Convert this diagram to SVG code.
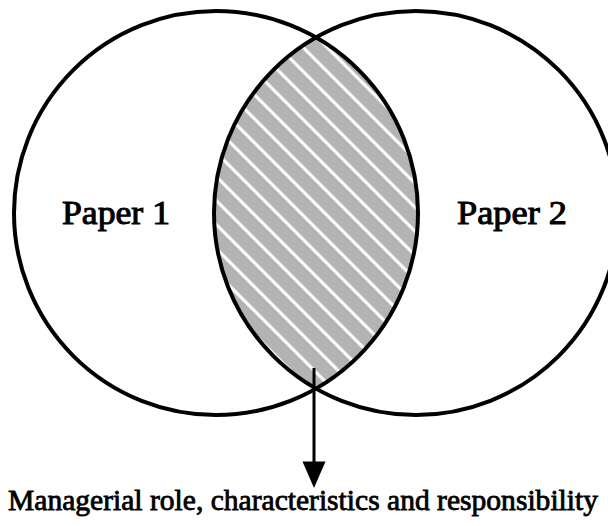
<svg xmlns="http://www.w3.org/2000/svg" width="608" height="526" viewBox="0 0 608 526">
<style>
.c{fill:none;stroke:#000;stroke-width:4}
.t{font-family:"Liberation Serif","Times New Roman",serif;fill:#000;stroke:#000;stroke-width:1}
</style>
<defs>
<pattern id="hatch" patternUnits="userSpaceOnUse" width="20" height="16.97" patternTransform="rotate(45)">
<rect width="20" height="16.97" fill="#b3b3b3"/>
<rect y="4.3" width="20" height="3.1" fill="#fff"/>
</pattern>
<clipPath id="lc"><circle cx="216" cy="213" r="202"/></clipPath>
</defs>
<rect width="608" height="526" fill="#fff"/>
<g id="intersection">
<circle cx="416" cy="213" r="202" fill="url(#hatch)" clip-path="url(#lc)"/>
</g>
<g id="paper1">
<circle class="c" cx="216" cy="213" r="202"/>
<text class="t" x="62" y="224" font-size="33" textLength="108" lengthAdjust="spacingAndGlyphs">Paper 1</text>
</g>
<g id="paper2">
<circle class="c" cx="416" cy="213" r="202"/>
<text class="t" x="457" y="224" font-size="33" textLength="110" lengthAdjust="spacingAndGlyphs">Paper 2</text>
</g>
<g id="connectors">
<line x1="314" y1="368" x2="314" y2="464" stroke="#000" stroke-width="3"/>
<path d="M302.5,461.5 L325.5,461.5 L314,488 Z" fill="#000"/>
</g>
<g id="result">
<text class="t" x="8" y="510" font-size="29" textLength="590" lengthAdjust="spacingAndGlyphs" style="stroke-width:0.8">Managerial role, characteristics and responsibility</text>
</g>
</svg>
